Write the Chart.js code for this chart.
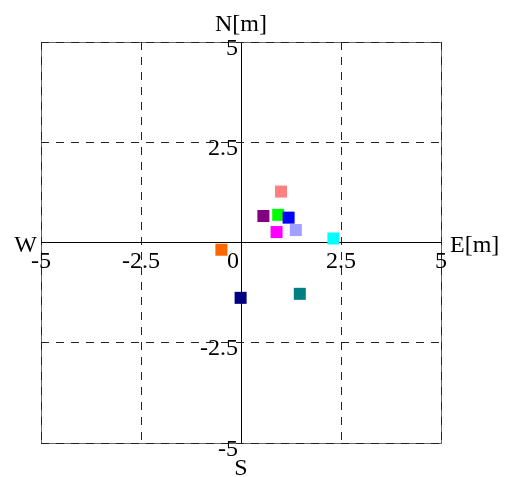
<!DOCTYPE html>
<html>
<head>
<meta charset="utf-8">
<script src="https://cdn.jsdelivr.net/npm/chart.js@4"></script>
<style>
  html, body { margin: 0; padding: 0; background: #fff; }
  #wrap { width: 510px; height: 477px; }
</style>
</head>
<body>
<div id="wrap"><canvas id="chart" width="510" height="477"></canvas></div>
<script>
const eastValues = [1.0, 0.56, 0.93, 1.19, 0.89, 1.37, 2.31, -0.49, -0.01, 1.47];
const northValues = [1.27, 0.66, 0.69, 0.62, 0.26, 0.31, 0.1, -0.18, -1.38, -1.28];
const pointColors = ["#ff8080", "#800080", "#00ff00", "#0000ff", "#ff00ff", "#a0a0ff", "#00ffff", "#ff6600", "#000080", "#008080"];
const tickValues = [-5, -2.5, 0, 2.5, 5];
const tickLabels = ["-5", "-2.5", "0", "2.5", "5"];
const axisNames = { north: "N[m]", east: "E[m]", west: "W", south: "S" };

const FONT = "24px 'Liberation Serif', 'Times New Roman', Times, serif";

// solid frame under the dashed grid, compass labels on top
const compassAxes = {
  id: "compassAxes",
  beforeDraw(chart) {
    const { ctx, chartArea: a } = chart;
    ctx.save();
    ctx.strokeStyle = "#666";
    ctx.lineWidth = 1;
    ctx.strokeRect(Math.round(a.left) + 0.5, Math.round(a.top) + 0.5,
      Math.round(a.right - a.left), Math.round(a.bottom - a.top));
    ctx.restore();
  },
  afterDraw(chart) {
    const { ctx, chartArea: a, scales: { x, y } } = chart;
    const x0 = x.getPixelForValue(0);
    const y0 = y.getPixelForValue(0);
    ctx.save();
    ctx.fillStyle = "#000";
    ctx.font = FONT;
    ctx.textBaseline = "alphabetic";

    tickValues.forEach((v, i) => {
      if (v === 0) {
        ctx.textAlign = "right";
        ctx.fillText(tickLabels[i], x0 - 2, y0 + 25.5);
        return;
      }
      ctx.textAlign = "center";
      ctx.fillText(tickLabels[i], x.getPixelForValue(v), y0 + 25.5);
      ctx.textAlign = "right";
      ctx.fillText(tickLabels[i], x0 - 3, y.getPixelForValue(v) + 12.5);
    });

    ctx.textAlign = "center";
    ctx.fillText(axisNames.north, x0, a.top - 11.5);
    ctx.fillText(axisNames.south, x0, a.bottom + 32);
    ctx.textAlign = "right";
    ctx.fillText(axisNames.west, a.left - 4, y0 + 9.5);
    ctx.textAlign = "left";
    ctx.fillText(axisNames.east, a.right + 9, y0 + 9.5);
    ctx.restore();
  }
};

const gridFor = () => ({
  color: (c) => (c.tick && c.tick.value === 0 ? "#000" : "#222"),
  lineWidth: 1,
  drawTicks: false
});
const borderFor = () => ({
  display: false,
  dash: (c) => (c.tick && c.tick.value === 0 ? [] : [8, 7])
});

function draw() {
  new Chart(document.getElementById("chart"), {
    type: "scatter",
    data: {
      datasets: [{
        data: eastValues.map((e, i) => ({ x: e, y: northValues[i] })),
        backgroundColor: pointColors,
        borderWidth: 0,
        pointStyle: "rect",
        pointRadius: 8.5,
        pointHoverRadius: 8.5
      }]
    },
    plugins: [compassAxes],
    options: {
      responsive: false,
      animation: false,
      layout: { padding: { left: 41, top: 42, right: 69, bottom: 34 } },
      plugins: { legend: { display: false }, tooltip: { enabled: false } },
      scales: {
        x: {
          type: "linear", min: -5, max: 5,
          afterBuildTicks: (s) => { s.ticks = tickValues.map((v) => ({ value: v })); },
          ticks: { display: false },
          grid: gridFor(),
          border: borderFor()
        },
        y: {
          type: "linear", min: -5, max: 5,
          afterBuildTicks: (s) => { s.ticks = tickValues.map((v) => ({ value: v })); },
          ticks: { display: false },
          grid: gridFor(),
          border: borderFor()
        }
      }
    }
  });
}

if (document.fonts && document.fonts.load) {
  document.fonts.load(FONT).then(draw, draw);
} else {
  draw();
}
</script>
</body>
</html>
